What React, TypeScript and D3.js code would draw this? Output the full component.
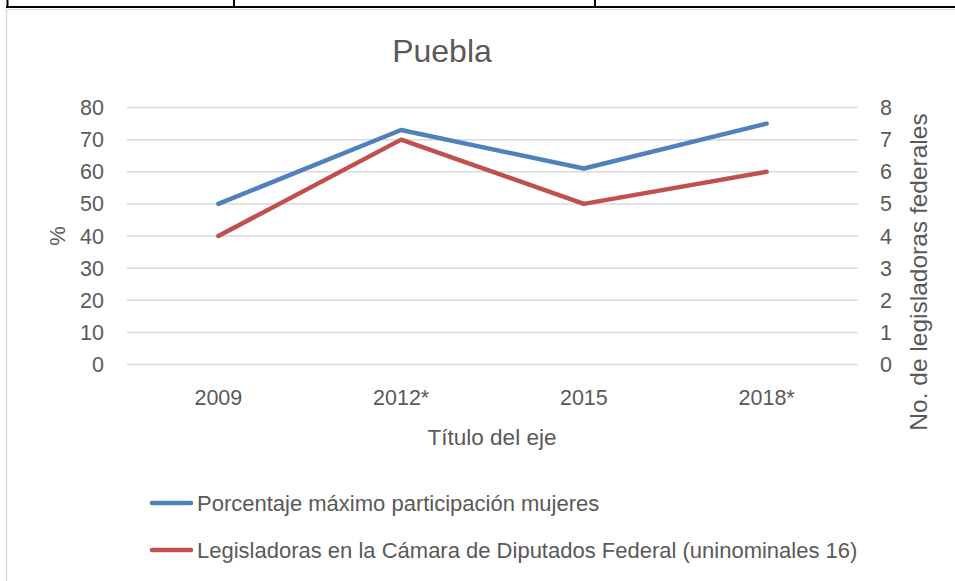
import React from "react";
import * as d3 from "d3";

const categories = ["2009", "2012*", "2015", "2018*"];
const porcentaje = [50, 73, 61, 75];
const legisladoras = [4, 7, 5, 6];
const leftTicks = [0, 10, 20, 30, 40, 50, 60, 70, 80];
const rightTicks = [0, 1, 2, 3, 4, 5, 6, 7, 8];
const seriesNames = [
  "Porcentaje máximo participación mujeres",
  "Legisladoras en la Cámara de Diputados Federal (uninominales 16)",
];

const W = 955;
const H = 581;
const FONT = "'Liberation Sans', Arial, sans-serif";
const TXT = "#595959";
const BLUE = "#4F81BD";
const RED = "#C0504D";

export default function App() {
  const x = d3.scaleBand<string>().domain(categories).range([127, 858]);
  const yL = d3.scaleLinear().domain([0, 80]).range([364.5, 107.5]);
  const yR = d3.scaleLinear().domain([0, 8]).range([364.5, 107.5]);
  const cx = (c: string) => (x(c) ?? 0) + x.bandwidth() / 2;

  const lineL = d3
    .line<number>()
    .x((_, i) => cx(categories[i]))
    .y((d) => yL(d));
  const lineR = d3
    .line<number>()
    .x((_, i) => cx(categories[i]))
    .y((d) => yR(d));

  return (
    <div style={{ position: "fixed", left: 0, top: 0, width: W, height: H, background: "#fff" }}>
      <svg width={W} height={H} style={{ display: "block" }}>
        <rect x={0} y={0} width={W} height={H} fill="#fff" />
        {/* table borders */}
        <line x1={6} x2={W} y1={7} y2={7} stroke="#000" strokeWidth={2.2} />
        <line x1={7.5} x2={7.5} y1={0} y2={8} stroke="#000" strokeWidth={2} />
        <line x1={234} x2={234} y1={0} y2={8} stroke="#000" strokeWidth={2} />
        <line x1={595} x2={595} y1={0} y2={8} stroke="#000" strokeWidth={2} />
        {/* chart area border */}
        <line x1={6.5} x2={W} y1={9.5} y2={9.5} stroke="#d9d9d9" strokeWidth={1} />
        <line x1={6.5} x2={6.5} y1={9.5} y2={H} stroke="#d9d9d9" strokeWidth={1.5} />

        {/* title */}
        <text x={442} y={62} textAnchor="middle" fontFamily={FONT} fontSize={32} fill={TXT}>
          Puebla
        </text>

        {/* gridlines */}
        {leftTicks.map((t) => (
          <line key={t} x1={127} x2={858} y1={yL(t)} y2={yL(t)} stroke="#d9d9d9" strokeWidth={1.5} />
        ))}

        {/* left ticks */}
        {leftTicks.map((t) => (
          <text key={t} x={104} y={yL(t) + 7.5} textAnchor="end" fontFamily={FONT} fontSize={21.5} fill={TXT}>
            {t}
          </text>
        ))}
        {/* right ticks */}
        {rightTicks.map((t) => (
          <text key={t} x={880} y={yR(t) + 7.5} textAnchor="start" fontFamily={FONT} fontSize={21.5} fill={TXT}>
            {t}
          </text>
        ))}
        {/* x ticks */}
        {categories.map((c) => (
          <text key={c} x={cx(c)} y={405} textAnchor="middle" fontFamily={FONT} fontSize={21.5} fill={TXT}>
            {c}
          </text>
        ))}

        {/* axis titles */}
        <text x={492} y={445} textAnchor="middle" fontFamily={FONT} fontSize={22.5} fill={TXT}>
          Título del eje
        </text>
        <text
          transform={`translate(65,236) rotate(-90)`}
          textAnchor="middle"
          fontFamily={FONT}
          fontSize={22}
          fill={TXT}
        >
          %
        </text>
        <text
          transform={`translate(927,272) rotate(-90)`}
          textAnchor="middle"
          fontFamily={FONT}
          fontSize={24.5}
          fill={TXT}
        >
          No. de legisladoras federales
        </text>

        {/* series */}
        <path d={lineL(porcentaje) ?? ""} fill="none" stroke={BLUE} strokeWidth={4.5} strokeLinecap="round" strokeLinejoin="round" />
        <path d={lineR(legisladoras) ?? ""} fill="none" stroke={RED} strokeWidth={4.5} strokeLinecap="round" strokeLinejoin="round" />

        {/* legend */}
        {seriesNames.map((name, i) => {
          const y = 503 + i * 47;
          const col = i === 0 ? BLUE : RED;
          return (
            <g key={name}>
              <line x1={152} x2={191} y1={y} y2={y} stroke={col} strokeWidth={4.5} strokeLinecap="round" />
              <text x={197} y={y + 8} fontFamily={FONT} fontSize={22} fill={TXT}>
                {name}
              </text>
            </g>
          );
        })}
      </svg>
    </div>
  );
}
